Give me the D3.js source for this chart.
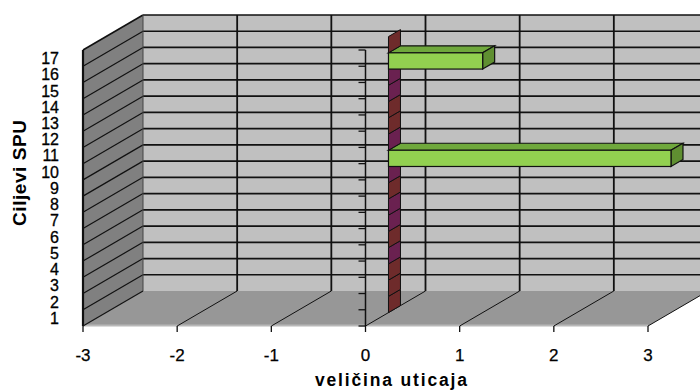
<!DOCTYPE html>
<html>
<head>
<meta charset="utf-8">
<script src="https://cdn.jsdelivr.net/npm/d3@7"></script>
<style>
  html, body { margin: 0; padding: 0; background: #ffffff; }
  svg { display: block; font-family: "Liberation Sans", Arial, sans-serif; }
</style>
</head>
<body>
<svg id="chart" width="700" height="392"></svg>
<script>
// Categories (goals) and the impact value of each one
const categories = ["1","2","3","4","5","6","7","8","9","10","11","12","13","14","15","16","17"];
const impact     = [0, 0, 0, 0, 0, 0, 0, 0, 0, 3, 0, 0, 0, 0, 0, 1, 0];
// Series each zero-value bar belongs to
const series     = ["A","A","A","B","A","B","B","A","B","C","B","A","A","B","B","C","A"];
const valueTicks = [-3, -2, -1, 0, 1, 2, 3];
const yTitle = "Ciljevi SPU";
const xTitle = "veličina uticaja";

const svg = d3.select("#chart");

// Front plane scales
const x = d3.scaleLinear().domain([-3, 3]).range([83, 648]);
const y = d3.scaleBand().domain(categories).range([326, 50]).paddingInner(0).paddingOuter(0);
const yc = d3.scaleLinear().domain([0, categories.length]).range([326, 50]);
const bw = y.bandwidth();

// Oblique depth projection
const DX = 60, DY = -35;
const P = (px, py, d) => [px + d * DX, py + d * DY];
const poly = pts => pts.map(p => p.join(",")).join(" ");

const x0 = x.range()[0], x1 = x.range()[1];
const yTop = yc(categories.length), yBot = yc(0);

// Back wall
const bwTL = P(x0, yTop, 1), bwBR = P(x1, yBot, 1);
svg.append("rect")
  .attr("x", bwTL[0]).attr("y", bwTL[1])
  .attr("width", bwBR[0] - bwTL[0]).attr("height", bwBR[1] - bwTL[1])
  .attr("fill", "#c0c0c0");

// Left side wall
svg.append("polygon")
  .attr("points", poly([[x0, yTop], P(x0, yTop, 1), P(x0, yBot, 1), [x0, yBot]]))
  .attr("fill", "#808080");

// Floor
svg.append("polygon")
  .attr("points", poly([[x0, yBot], [x1, yBot], P(x1, yBot, 1), P(x0, yBot, 1)]))
  .attr("fill", "#979797");
svg.append("line")
  .attr("x1", x0).attr("x2", x1).attr("y1", yBot - 0.5).attr("y2", yBot - 0.5)
  .attr("stroke", "#b8b8b8").attr("stroke-width", 2);

// Horizontal gridlines on the back wall (category boundaries)
const bounds = d3.range(1, categories.length + 1);
svg.append("g").selectAll("line").data(bounds).join("line")
  .attr("x1", P(x0, 0, 1)[0]).attr("x2", 710)
  .attr("y1", c => P(0, yc(c), 1)[1]).attr("y2", c => P(0, yc(c), 1)[1])
  .attr("stroke", "#111").attr("stroke-width", 1.7);

// Diagonal gridlines on the side wall
svg.append("g").selectAll("line").data(d3.range(0, categories.length + 1)).join("line")
  .attr("x1", x0).attr("y1", c => yc(c))
  .attr("x2", P(x0, 0, 1)[0]).attr("y2", c => P(0, yc(c), 1)[1])
  .attr("stroke", "#111").attr("stroke-width", c => c === categories.length ? 1.6 : 1.2);

// Side wall edges
svg.append("line").attr("x1", x0).attr("x2", x0).attr("y1", yTop).attr("y2", yBot)
  .attr("stroke", "#111").attr("stroke-width", 2.2);
svg.append("line").attr("x1", P(x0,0,1)[0]).attr("x2", P(x0,0,1)[0])
  .attr("y1", P(0,yTop,1)[1]).attr("y2", P(0,yBot,1)[1])
  .attr("stroke", "#444").attr("stroke-width", 1);

// Vertical gridlines on the back wall and their continuation across the floor
svg.append("g").selectAll("line").data(valueTicks.slice(1)).join("line")
  .attr("x1", v => P(x(v), 0, 1)[0]).attr("x2", v => P(x(v), 0, 1)[0])
  .attr("y1", P(0, yTop, 1)[1]).attr("y2", P(0, yBot, 1)[1])
  .attr("stroke", "#111").attr("stroke-width", 1.8);
svg.append("g").selectAll("line").data(valueTicks.slice(1)).join("line")
  .attr("x1", v => x(v)).attr("y1", yBot)
  .attr("x2", v => P(x(v), yBot, 1)[0]).attr("y2", P(0, yBot, 1)[1])
  .attr("stroke", "#111").attr("stroke-width", 1);

// Bars, placed in the middle of the depth
const D0 = 0.383, D1 = 0.583;
const ddx = (D1 - D0) * DX, ddy = (D1 - D0) * DY;
const colors = {
  A: "#6e2b2b",
  B: "#6a2150",
  C: { front: "#92d050", top: "#6fa83c", side: "#5f8f31" }
};
const bars = svg.append("g");
categories.forEach((cat, i) => {
  const v = impact[i];
  const [bx0, by0] = P(x(0), y(cat), D0);   // top-left of front face
  const byb = by0 + bw;
  if (v === 0) {
    bars.append("polygon")
      .attr("points", poly([[bx0, byb], [bx0, by0], [bx0 + ddx, by0 + ddy], [bx0 + ddx, byb + ddy]]))
      .attr("fill", colors[series[i]]).attr("stroke", "#111").attr("stroke-width", 1)
      .attr("stroke-linejoin", "round");
  } else {
    const bx1 = P(x(v), 0, D0)[0];
    const c = colors[series[i]];
    bars.append("polygon")
      .attr("points", poly([[bx0, by0], [bx1, by0], [bx1 + ddx, by0 + ddy], [bx0 + ddx, by0 + ddy]]))
      .attr("fill", c.top).attr("stroke", "#111").attr("stroke-width", 1.2);
    bars.append("polygon")
      .attr("points", poly([[bx1, by0], [bx1 + ddx, by0 + ddy], [bx1 + ddx, byb + ddy], [bx1, byb]]))
      .attr("fill", c.side).attr("stroke", "#111").attr("stroke-width", 1.2);
    bars.append("rect")
      .attr("x", bx0).attr("y", by0).attr("width", bx1 - bx0).attr("height", bw)
      .attr("fill", c.front).attr("stroke", "#111").attr("stroke-width", 1.2);
  }
});

// Category axis crossing at zero on the front plane
svg.append("line")
  .attr("x1", x(0)).attr("x2", x(0)).attr("y1", yTop).attr("y2", yBot)
  .attr("stroke", "#111").attr("stroke-width", 1.5);
svg.append("g").selectAll("line").data(d3.range(0, categories.length + 1)).join("line")
  .attr("x1", x(0) - 7).attr("x2", x(0)).attr("y1", c => yc(c)).attr("y2", c => yc(c))
  .attr("stroke", "#111").attr("stroke-width", 1.3);

// Category labels
svg.append("g").selectAll("text").data(categories).join("text")
  .attr("x", 59).attr("y", d => y(d) + bw / 2).attr("dy", "0.37em")
  .attr("text-anchor", "end").attr("font-size", 16).attr("fill", "#000")
  .attr("stroke", "#000").attr("stroke-width", 0.3)
  .text(d => d);

// Value axis ticks and labels
svg.append("g").selectAll("line").data(valueTicks).join("line")
  .attr("x1", v => x(v)).attr("x2", v => x(v)).attr("y1", yBot).attr("y2", yBot + 6)
  .attr("stroke", "#111").attr("stroke-width", 1.3);
svg.append("g").selectAll("text").data(valueTicks).join("text")
  .attr("x", v => x(v)).attr("y", 361)
  .attr("text-anchor", "middle").attr("font-size", 17).attr("fill", "#000")
  .attr("stroke", "#000").attr("stroke-width", 0.25)
  .text(v => d3.format("d")(v).replace("−", "-"));

// Axis titles
svg.append("text")
  .attr("transform", "translate(26,173) rotate(-90)")
  .attr("text-anchor", "middle").attr("font-size", 19).attr("font-weight", "bold")
  .attr("textLength", 106).attr("lengthAdjust", "spacing")
  .text(yTitle);
svg.append("text")
  .attr("x", 391).attr("y", 386)
  .attr("text-anchor", "middle").attr("font-size", 17.5).attr("font-weight", "bold")
  .attr("textLength", 152).attr("lengthAdjust", "spacing")
  .text(xTitle);
</script>
</body>
</html>
